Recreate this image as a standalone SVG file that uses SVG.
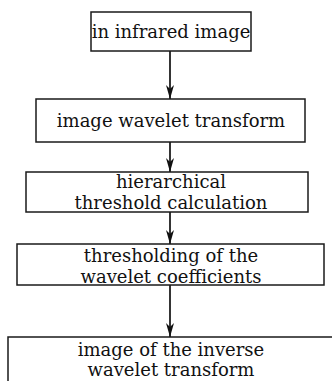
<svg xmlns="http://www.w3.org/2000/svg" width="332" height="381" viewBox="0 0 332 381">
  <style>
    .box { fill: #ffffff; stroke: #1a1a1a; stroke-width: 1.5; }
    .lbl { font-family: "DejaVu Serif", "Liberation Serif", serif; font-size: 18px; fill: #111111; text-anchor: middle; }
    .edge { stroke: #111111; stroke-width: 1.7; fill: none; marker-end: url(#arrow); }
  </style>
  <defs>
    <!-- narrow notched arrowhead, drawn in user units -->
    <marker id="arrow" markerWidth="16" markerHeight="10" refX="14" refY="5" orient="auto" markerUnits="userSpaceOnUse">
      <path d="M0,1 L14,5 L0,9 L4,5 Z" fill="#111111"/>
    </marker>
  </defs>
  <rect width="332" height="381" fill="#ffffff"/>

  <g id="connectors">
    <path class="edge" d="M170,51 L170,99"/>
    <path class="edge" d="M170,142 L170,172"/>
    <path class="edge" d="M170,212 L170,244"/>
    <path class="edge" d="M170,285 L170,337"/>
  </g>

  <g id="node-input">
    <rect class="box" x="91" y="12" width="160" height="39"/>
    <text class="lbl" x="171" y="38">in infrared image</text>
  </g>

  <g id="node-wavelet">
    <rect class="box" x="36" y="99" width="269" height="43"/>
    <text class="lbl" x="171" y="127">image wavelet transform</text>
  </g>

  <g id="node-threshold">
    <rect class="box" x="26" y="172" width="282" height="40"/>
    <text class="lbl" x="171" y="188">hierarchical</text>
    <text class="lbl" x="171" y="209">threshold calculation</text>
  </g>

  <g id="node-coefficients">
    <rect class="box" x="17" y="244" width="307" height="41"/>
    <text class="lbl" x="171" y="262">thresholding of the</text>
    <text class="lbl" x="171" y="283">wavelet coefficients</text>
  </g>

  <g id="node-inverse">
    <rect class="box" x="8" y="337" width="340" height="60"/>
    <text class="lbl" x="171" y="356">image of the inverse</text>
    <text class="lbl" x="171" y="376">wavelet transform</text>
  </g>
</svg>
